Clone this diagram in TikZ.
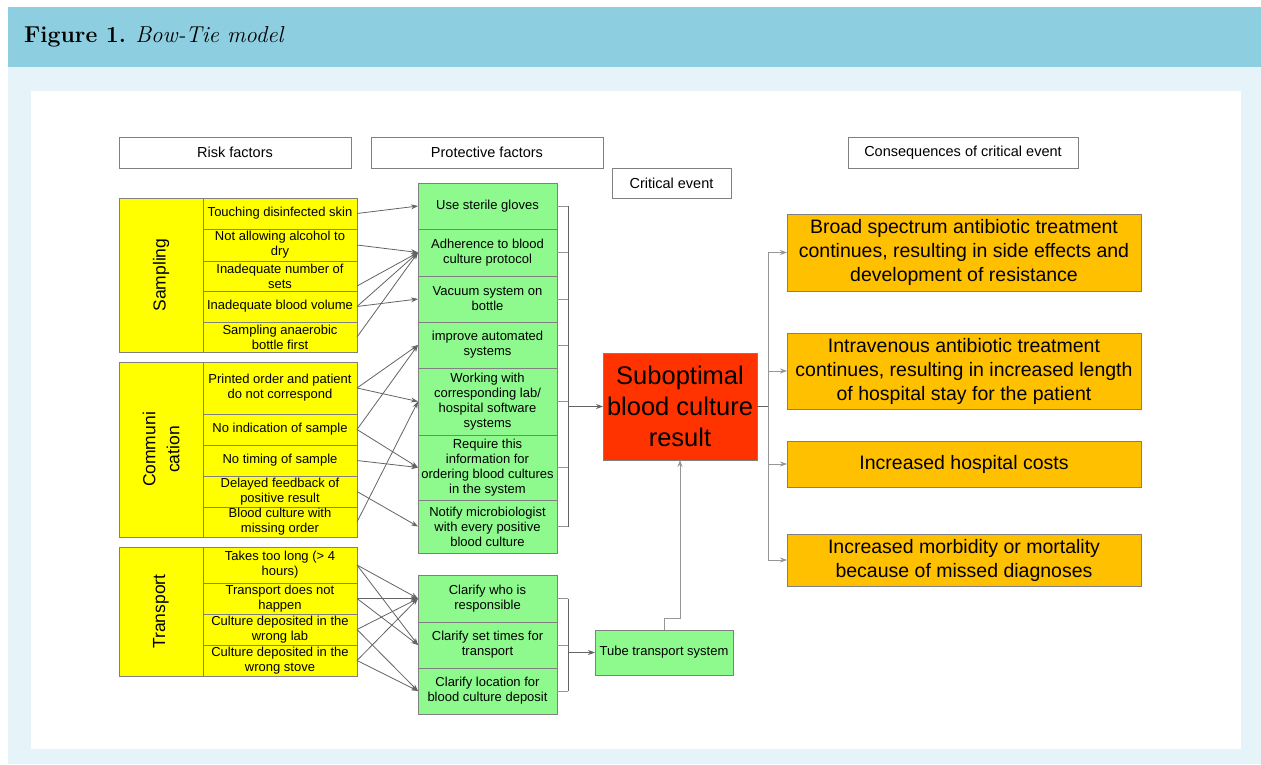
\documentclass[tikz,border=0pt]{standalone}
\usepackage{fontspec}
\newfontfamily\sansf{Liberation Sans}
\usetikzlibrary{arrows.meta,calc}
\definecolor{hdr}{RGB}{141,207,224}
\definecolor{pan}{RGB}{230,243,249}
\definecolor{bord}{RGB}{128,128,128}
\definecolor{ln}{RGB}{100,100,100}
\definecolor{lnl}{RGB}{150,150,150}
\definecolor{yel}{RGB}{255,255,0}
\definecolor{grn}{RGB}{142,250,142}
\definecolor{critc}{RGB}{255,51,0}
\definecolor{cons}{RGB}{255,192,0}
\begin{document}
\begin{tikzpicture}[x=1pt,y=-1pt,
 base/.style={draw=bord, line width=0.9pt, inner sep=0pt, outer sep=0pt, anchor=north west, align=center, font=\sansf\fontsize{13}{15}\selectfont},
 titlebox/.style={base, fill=white, font=\sansf\fontsize{14.5}{17}\selectfont},
 riskbox/.style={base, fill=yel, minimum width=154pt},
 groupbox/.style={base, fill=yel, minimum width=84pt},
 grouplbl/.style={rotate=90, align=center, font=\sansf\fontsize{17.5}{24}\selectfont, inner sep=0pt},
 protbox/.style={base, fill=grn, minimum width=139pt},
 critbox/.style={base, fill=critc, font=\sansf\fontsize{25.5}{31}\selectfont},
 consbox/.style={base, fill=cons, minimum width=354pt, font=\sansf\fontsize{19.5}{24}\selectfont},
 arr/.style={draw=ln, line width=0.8pt, -{Stealth[length=7pt,width=5pt]}},
 arrl/.style={draw=lnl, line width=0.8pt, -{Stealth[length=7pt,width=5pt]}},
 brk/.style={draw=lnl, line width=0.8pt},
 bus/.style={draw=ln, line width=1pt}]
\useasboundingbox (0,0) rectangle (1261,764);
\fill[white] (0,0) rectangle (1261,764);
\fill[pan] (8,67) rectangle (1261,764);
\fill[hdr] (8,7) rectangle (1261,67);
\fill[white] (31,91) rectangle (1241,749);
\node[anchor=west, inner sep=0pt, font=\fontsize{23}{27}\selectfont] (hdrtxt) at (24,37) {\textbf{Figure 1.} \textit{Bow-Tie model}};

% titles
\node[titlebox, minimum width=232pt, minimum height=31pt] (tRisk) at (119,137) {Risk factors};
\node[titlebox, minimum width=232pt, minimum height=31pt] (tProt) at (371,137) {Protective factors};
\node[titlebox, minimum width=119pt, minimum height=30pt] (tCrit) at (612,168) {Critical event};
\node[titlebox, minimum width=230pt, minimum height=31pt] (tCons) at (848,137) {Consequences of critical event};

% groups
\node[groupbox, minimum height=154pt] (gS) at (119,198) {};
\node[grouplbl] (gSl) at (gS.center) {Sampling};
\node[groupbox, minimum height=175pt] (gC) at (119,362) {};
\node[grouplbl] (gCl) at (gC.center) {Communi\\cation};
\node[groupbox, minimum height=129pt] (gT) at (119,547) {};
\node[grouplbl] (gTl) at (gT.center) {Transport};

% sampling items
\node[riskbox, minimum height=31pt] (s1) at (203,198) {Touching disinfected skin};
\node[riskbox, minimum height=32pt] (s2) at (203,229) {Not allowing alcohol to\\dry};
\node[riskbox, minimum height=30pt] (s3) at (203,261) {Inadequate number of\\sets};
\node[riskbox, minimum height=31pt] (s4) at (203,291) {Inadequate blood volume};
\node[riskbox, minimum height=30pt] (s5) at (203,322) {Sampling anaerobic\\bottle first};
% communication items
\node[riskbox, minimum height=52pt] (c1) at (203,362) {Printed order and patient\\do not correspond};
\node[riskbox, minimum height=31pt] (c2) at (203,414) {No indication of sample};
\node[riskbox, minimum height=31pt] (c3) at (203,445) {No timing of sample};
\node[riskbox, minimum height=31pt] (c4) at (203,476) {Delayed feedback of\\positive result};
\node[riskbox, minimum height=30pt] (c5) at (203,507) {Blood culture with\\missing order};
% transport items
\node[riskbox, minimum height=36pt] (t1) at (203,547) {Takes too long (> 4\\hours)};
\node[riskbox, minimum height=31pt] (t2) at (203,583) {Transport does not\\happen};
\node[riskbox, minimum height=31pt] (t3) at (203,614) {Culture deposited in the\\wrong lab};
\node[riskbox, minimum height=31pt] (t4) at (203,645) {Culture deposited in the\\wrong stove};

% protective
\node[protbox, minimum height=46pt] (p1) at (418,183) {Use sterile gloves};
\node[protbox, minimum height=47pt] (p2) at (418,229) {Adherence to blood\\culture protocol};
\node[protbox, minimum height=46pt] (p3) at (418,276) {Vacuum system on\\bottle};
\node[protbox, minimum height=46pt] (p4) at (418,322) {improve automated\\systems};
\node[protbox, minimum height=67pt] (p5) at (418,368) {Working with\\corresponding lab/\\hospital software\\systems};
\node[protbox, minimum height=65pt] (p6) at (418,435) {Require this\\information for\\ordering blood cultures\\in the system};
\node[protbox, minimum height=53pt] (p7) at (418,500) {Notify microbiologist\\with every positive\\blood culture};
\node[protbox, minimum height=47pt] (q1) at (418,575) {Clarify who is\\responsible};
\node[protbox, minimum height=46pt] (q2) at (418,622) {Clarify set times for\\transport};
\node[protbox, minimum height=46pt] (q3) at (418,668) {Clarify location for\\blood culture deposit};

% critical and tube
\node[critbox, minimum width=154pt, minimum height=107pt] (crit) at (603,353) {Suboptimal\\blood culture\\result};
\node[protbox, minimum width=138pt, minimum height=45pt] (tube) at (595,630) {Tube transport system};

% consequences
\node[consbox, minimum height=77pt] (k1) at (787,214) {Broad spectrum antibiotic treatment\\continues, resulting in side effects and\\development of resistance};
\node[consbox, minimum height=76pt] (k2) at (787,333) {Intravenous antibiotic treatment\\continues, resulting in increased length\\of hospital stay for the patient};
\node[consbox, minimum height=46pt] (k3) at (787,441) {Increased hospital costs};
\node[consbox, minimum height=52pt] (k4) at (787,534) {Increased morbidity or mortality\\because of missed diagnoses};

% risk -> protective arrows
\draw[arr] (s1.east) -- (p1.west);
\draw[arr] (s2.east) -- (p2.west);
\draw[arr] ([yshift=-10pt]s3.east) -- (p2.west);
\draw[arr] (s4.east) -- (p2.west);
\draw[arr] (s4.east) -- (p3.west);
\draw[arr] (s5.east) -- (p2.west);
\draw[arr] (c1.east) -- (p4.west);
\draw[arr] (c1.east) -- (p5.west);
\draw[arr] (c2.east) -- (p4.west);
\draw[arr] (c2.east) -- (p6.west);
\draw[arr] (c3.east) -- (p6.west);
\draw[arr] (c4.east) -- (p7.west);
\draw[arr] (c5.east) -- (p5.west);
\draw[arr] (t1.east) -- (q1.west);
\draw[arr] (t1.east) -- (q2.west);
\draw[arr] (t2.east) -- (q1.west);
\draw[arr] (t2.east) -- (q2.west);
\draw[arr] (t3.east) -- (q1.west);
\draw[arr] (t3.east) -- (q3.west);
\draw[arr] (t4.east) -- (q1.west);
\draw[arr] (t4.east) -- (q3.west);

% brackets to critical event
\coordinate (bA) at (568,0);
\foreach \n in {p1,p2,p3,p4,p5,p6,p7,q1,q2,q3}{
  \draw[brk] (\n.east) -- (\n.east -| bA);
}
\draw[bus] (p1.east -| bA) -- (p7.east -| bA);
\draw[arr] (crit.west -| bA) -- (crit.west);
\draw[bus] (q1.east -| bA) -- (q3.east -| bA);
\draw[arr] (tube.west -| bA) -- (tube.west);
\draw[arrl] (tube.north) -- ++(0,-12) -| (crit.south);

% consequences
\coordinate (bC) at (768,0);
\draw[bus] (crit.east) -- (crit.east -| bC);
\draw[brk] (k1.west -| bC) -- (k4.west -| bC);
\foreach \n in {k1,k2,k3,k4}{
  \draw[arrl] (\n.west -| bC) -- (\n.west);
}
\end{tikzpicture}
\end{document}
